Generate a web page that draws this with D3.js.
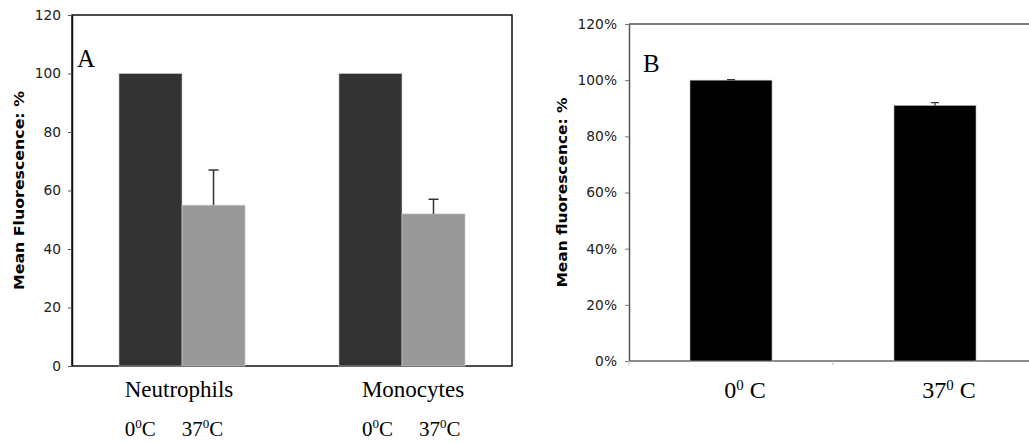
<!DOCTYPE html>
<html>
<head>
<meta charset="utf-8">
<script src="https://cdn.jsdelivr.net/npm/d3@7"></script>
<style>
  body { margin: 0; background: #fff; }
  svg { display: block; }
  .tick text { font-family: 'DejaVu Sans', Verdana, sans-serif; font-size: 13.8px; fill: #222; }
</style>
</head>
<body>
<svg id="viz" width="1029" height="443"></svg>
<script>
// ----------------------- DATA
// panel A: cell type x temperature
const groupsA = ['Neutrophils', 'Monocytes'];
const tempsA = ['0', '37'];
const neutrophilsA = [100, 55];
const monocytesA = [100, 52];
const neutrophilsErrA = [0, 12];
const monocytesErrA = [0, 5];
const ticksA = [0, 20, 40, 60, 80, 100, 120];

// panel B: temperature only
const tempsB = ['0', '37'];
const meanB = [1.00, 0.91];
const errB = [0.002, 0.01];
const ticksB = [0, 0.2, 0.4, 0.6, 0.8, 1.0, 1.2];

const svg = d3.select('#viz');

// helper for "0⁰C" style labels
function tempLabel(sel, t, gap) {
  sel.append('tspan').text(t);
  sel.append('tspan').attr('dy', -8).attr('font-size', '0.62em').text('0');
  sel.append('tspan').attr('dy', 8).text(gap + 'C');
}

// ----------------------- PANEL A
const A = { left: 72, right: 512, top: 15, bottom: 366 };

const xA = d3.scaleBand()
  .domain(groupsA)
  .range([A.left, A.right])
  .paddingInner(0.427)
  .paddingOuter(0.2136);

const xA1 = d3.scaleBand()
  .domain(tempsA)
  .range([0, xA.bandwidth()]);

const yA = d3.scaleLinear()
  .domain([0, 120])
  .range([A.bottom, A.top]);

const gA = svg.append('g');

gA.append('rect')
  .attr('x', A.left).attr('y', A.top)
  .attr('width', A.right - A.left).attr('height', A.bottom - A.top)
  .attr('fill', 'none').attr('stroke', '#111').attr('stroke-width', 1.5);

const axA = gA.append('g')
  .attr('transform', `translate(${A.left},0)`)
  .call(d3.axisLeft(yA).tickValues(ticksA).tickSize(4).tickPadding(7).tickSizeOuter(0));
axA.select('.domain').attr('stroke', '#111').attr('stroke-width', 1.5);
axA.selectAll('.tick line').attr('stroke', '#555');

const rowsA = groupsA.map((g, i) => ({
  group: g,
  vals: i === 0 ? neutrophilsA : monocytesA,
  errs: i === 0 ? neutrophilsErrA : monocytesErrA
}));
const colorsA = ['#333333', '#999999'];

rowsA.forEach(r => {
  const gx = xA(r.group);
  tempsA.forEach((t, j) => {
    const v = r.vals[j];
    gA.append('rect')
      .attr('x', gx + xA1(t))
      .attr('y', yA(v))
      .attr('width', xA1.bandwidth())
      .attr('height', yA(0) - yA(v))
      .attr('fill', colorsA[j])
      .attr('stroke', '#cfcfcf').attr('stroke-width', 0.6);
    if (r.errs[j] > 0) {
      const cx = gx + xA1(t) + xA1.bandwidth() / 2;
      const yt = yA(v + r.errs[j]);
      gA.append('line')
        .attr('x1', cx).attr('x2', cx).attr('y1', yA(v)).attr('y2', yt)
        .attr('stroke', '#333').attr('stroke-width', 1.5);
      gA.append('line')
        .attr('x1', cx - 5).attr('x2', cx + 5).attr('y1', yt).attr('y2', yt)
        .attr('stroke', '#333').attr('stroke-width', 1.5);
    }
  });

  // category label, then temperature labels aligned to its left edge
  const lab = gA.append('text')
    .attr('x', gx + xA.bandwidth() / 2 + (r.group === 'Monocytes' ? 11 : -3))
    .attr('y', 397)
    .attr('text-anchor', 'middle')
    .attr('font-family', "'Liberation Serif', 'Times New Roman', serif")
    .attr('font-size', 23)
    .text(r.group);
  const w = lab.node().getComputedTextLength();
  const lx = +lab.attr('x') - w / 2;
  tempsA.forEach((t, j) => {
    gA.append('text')
      .attr('x', lx + j * 57)
      .attr('y', 436)
      .attr('font-family', "'Liberation Serif', 'Times New Roman', serif")
      .attr('font-size', 21)
      .call(s => tempLabel(s, t, ''));
  });
});

gA.append('text')
  .attr('x', 77).attr('y', 67)
  .attr('font-family', "'Liberation Serif', 'Times New Roman', serif")
  .attr('font-size', 25)
  .text('A');

gA.append('text')
  .attr('transform', `translate(24,${(A.top + A.bottom) / 2}) rotate(-90)`)
  .attr('text-anchor', 'middle')
  .attr('font-family', "'DejaVu Sans', Verdana, sans-serif")
  .attr('font-weight', 'bold')
  .attr('font-size', 13.5)
  .attr('textLength', 199).attr('lengthAdjust', 'spacingAndGlyphs')
  .text('Mean Fluorescence: %');

// ----------------------- PANEL B
const B = { left: 629, right: 1037, top: 24, bottom: 361 };

const xB = d3.scaleBand()
  .domain(tempsB)
  .range([B.left, B.right])
  .paddingInner(0.598)
  .paddingOuter(0.299);

const yB = d3.scaleLinear()
  .domain([0, 1.2])
  .range([B.bottom, B.top]);

const gB = svg.append('g');

gB.append('path')
  .attr('d', `M${B.left},${B.top}H${B.right}V${B.bottom}`)
  .attr('fill', 'none').attr('stroke', '#555').attr('stroke-width', 1.5);

const axB = gB.append('g')
  .attr('transform', `translate(${B.left},0)`)
  .call(d3.axisLeft(yB).tickValues(ticksB).tickFormat(d3.format('.0%')).tickSize(4).tickPadding(8).tickSizeOuter(0));
axB.select('.domain').attr('stroke', '#555').attr('stroke-width', 1.5);
axB.selectAll('.tick line').attr('stroke', '#777');

gB.append('line')
  .attr('x1', B.left).attr('x2', B.right).attr('y1', B.bottom).attr('y2', B.bottom)
  .attr('stroke', '#666').attr('stroke-width', 1.5);

// category boundary ticks on the x axis
d3.range(tempsB.length + 1).forEach(i => {
  const bx = xB.range()[0] + i * xB.step();
  gB.append('line')
    .attr('x1', bx).attr('x2', bx).attr('y1', B.bottom).attr('y2', B.bottom + 4)
    .attr('stroke', '#bbb');
});

tempsB.forEach((t, i) => {
  const v = meanB[i];
  gB.append('rect')
    .attr('x', xB(t)).attr('y', yB(v))
    .attr('width', xB.bandwidth()).attr('height', yB(0) - yB(v))
    .attr('fill', '#000')
    .attr('stroke', '#bbb').attr('stroke-width', 0.6);
  const cx = xB(t) + xB.bandwidth() / 2;
  const yt = yB(v + errB[i]);
  gB.append('line')
    .attr('x1', cx).attr('x2', cx).attr('y1', yB(v)).attr('y2', yt)
    .attr('stroke', '#333').attr('stroke-width', 1.2);
  gB.append('line')
    .attr('x1', cx - 4).attr('x2', cx + 4).attr('y1', yt).attr('y2', yt)
    .attr('stroke', '#333').attr('stroke-width', 1.2);

  gB.append('text')
    .attr('x', cx + 14)
    .attr('y', 398)
    .attr('text-anchor', 'middle')
    .attr('font-family', "'Liberation Serif', 'Times New Roman', serif")
    .attr('font-size', 24)
    .call(s => tempLabel(s, t, ' '));
});

gB.append('text')
  .attr('x', 643).attr('y', 72)
  .attr('font-family', "'Liberation Serif', 'Times New Roman', serif")
  .attr('font-size', 25)
  .text('B');

gB.append('text')
  .attr('transform', `translate(567,${(B.top + B.bottom) / 2}) rotate(-90)`)
  .attr('text-anchor', 'middle')
  .attr('font-family', "'DejaVu Sans', Verdana, sans-serif")
  .attr('font-weight', 'bold')
  .attr('font-size', 13.5)
  .attr('textLength', 190).attr('lengthAdjust', 'spacingAndGlyphs')
  .text('Mean fluorescence: %');
</script>
</body>
</html>
